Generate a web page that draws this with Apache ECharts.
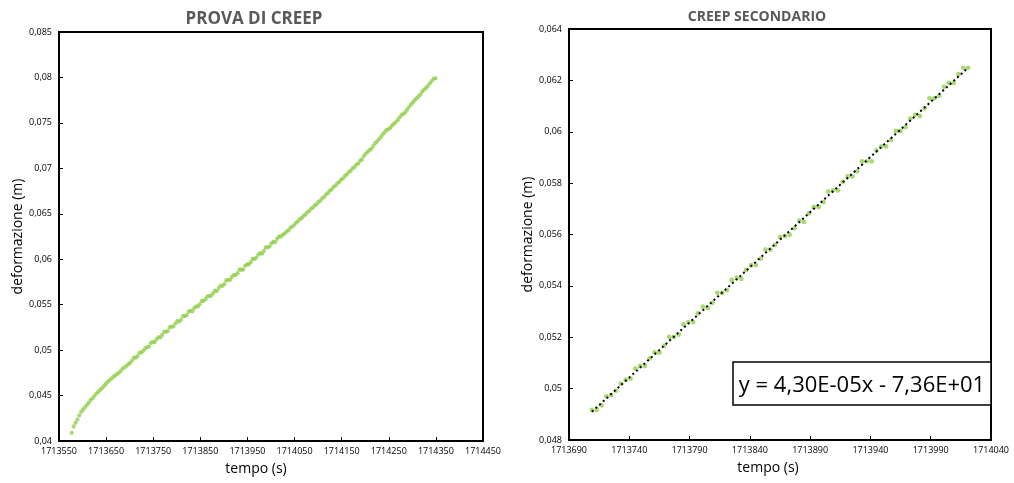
<!DOCTYPE html>
<html>
<head>
<meta charset="utf-8">
<script src="https://cdn.jsdelivr.net/npm/echarts@6/dist/echarts.min.js"></script>
<style>html,body{margin:0;padding:0;background:#fff}#c{width:1014px;height:483px}</style>
</head>
<body>
<div id="c"></div>
<script>
// ---- data ----
const primaryTime = [1713577,1713581,1713585,1713589,1713593,1713597,1713601,1713605,1713609,1713613,1713617,1713621,1713625,1713629,1713633,1713637,1713641,1713645,1713649,1713653,1713657,1713661,1713665,1713669,1713673,1713677,1713681,1713685,1713689,1713693,1713697,1713701,1713705];
const primaryDef = [0.04090,0.04160,0.04200,0.04235,0.04280,0.04320,0.04345,0.04370,0.04395,0.04420,0.04450,0.04470,0.04495,0.04520,0.04540,0.04560,0.04580,0.04600,0.04625,0.04650,0.04665,0.04685,0.04705,0.04720,0.04735,0.04750,0.04770,0.04795,0.04810,0.04825,0.04845,0.04860,0.04885];

const secondaryTime = [1713709,1713713,1713717,1713721,1713725,1713729,1713733,1713737,1713741,1713745,1713749,1713753,1713757,1713761,1713765,1713769,1713773,1713777,1713781,1713785,1713789,1713793,1713797,1713801,1713805,1713809,1713813,1713817,1713821,1713825,1713829,1713833,1713837,1713841,1713845,1713849,1713853,1713857,1713861,1713865,1713869,1713873,1713877,1713881,1713885,1713889,1713893,1713897,1713901,1713905,1713909,1713913,1713917,1713921,1713925,1713929,1713933,1713937,1713941,1713945,1713949,1713953,1713957,1713961,1713965,1713969,1713973,1713977,1713981,1713985,1713989,1713993,1713997,1714001,1714005,1714009,1714013,1714017,1714021];
const secondaryDef = [0.04917,0.04917,0.04935,0.04970,0.04975,0.04992,0.05019,0.05034,0.05039,0.05078,0.05088,0.05088,0.05118,0.05141,0.05141,0.05167,0.05201,0.05201,0.05210,0.05250,0.05259,0.05259,0.05293,0.05319,0.05314,0.05334,0.05373,0.05373,0.05384,0.05423,0.05432,0.05427,0.05462,0.05481,0.05481,0.05506,0.05541,0.05541,0.05560,0.05590,0.05594,0.05599,0.05624,0.05654,0.05649,0.05682,0.05707,0.05707,0.05726,0.05767,0.05772,0.05772,0.05805,0.05826,0.05826,0.05846,0.05885,0.05885,0.05885,0.05927,0.05943,0.05943,0.05968,0.06003,0.06003,0.06018,0.06051,0.06066,0.06061,0.06091,0.06130,0.06130,0.06140,0.06175,0.06190,0.06190,0.06224,0.06249,0.06249];

const tertiaryTime = [1714025,1714029,1714033,1714037,1714041,1714045,1714049,1714053,1714057,1714061,1714065,1714069,1714073,1714077,1714081,1714085,1714089,1714093,1714097,1714101,1714105,1714109,1714113,1714117,1714121,1714125,1714129,1714133,1714137,1714141,1714145,1714149,1714153,1714157,1714161,1714165,1714169,1714173,1714177,1714181,1714185,1714189,1714193,1714197,1714201,1714205,1714209,1714213,1714217,1714221,1714225,1714229,1714233,1714237,1714241,1714245,1714249,1714253,1714257,1714261,1714265,1714269,1714273,1714277,1714281,1714285,1714289,1714293,1714297,1714301,1714305,1714309,1714313,1714317,1714321,1714325,1714329,1714333,1714337,1714341,1714345,1714349];
const tertiaryDef = [0.06268,0.06282,0.06305,0.06318,0.06345,0.06358,0.06376,0.06401,0.06415,0.06440,0.06452,0.06478,0.06490,0.06517,0.06530,0.06555,0.06568,0.06594,0.06606,0.06632,0.06645,0.06673,0.06686,0.06714,0.06727,0.06755,0.06768,0.06796,0.06809,0.06836,0.06850,0.06877,0.06890,0.06918,0.06931,0.06958,0.06972,0.06999,0.07013,0.07040,0.07053,0.07081,0.07098,0.07135,0.07160,0.07180,0.07200,0.07215,0.07245,0.07275,0.07295,0.07320,0.07345,0.07370,0.07395,0.07420,0.07430,0.07445,0.07470,0.07490,0.07510,0.07530,0.07560,0.07587,0.07600,0.07615,0.07645,0.07675,0.07700,0.07725,0.07750,0.07770,0.07790,0.07810,0.07845,0.07865,0.07885,0.07905,0.07935,0.07960,0.07985,0.07990];

const titles = ['PROVA DI CREEP', 'CREEP SECONDARIO'];
const xName = 'tempo (s)';
const yName = 'deformazione (m)';
const equationText = 'y = 4,30E-05x - 7,36E+01';
const leftX = {min: 1713550, max: 1714450, interval: 100};
const leftY = {min: 0.04, max: 0.085, interval: 0.005};
const rightX = {min: 1713690, max: 1714040, interval: 50};
const rightY = {min: 0.048, max: 0.064, interval: 0.002};

// ---- build ----
const pair = (xs, ys) => xs.map((x, i) => [x, ys[i]]);
const allTime = primaryTime.concat(secondaryTime, tertiaryTime);
const allDef = primaryDef.concat(secondaryDef, tertiaryDef);

// least squares trend of secondary creep
function fit(xs, ys) {
  const n = xs.length;
  const x0 = xs[0];
  let sx = 0, sy = 0, sxx = 0, sxy = 0;
  for (let i = 0; i < n; i++) { const x = xs[i] - x0; sx += x; sy += ys[i]; sxx += x * x; sxy += x * ys[i]; }
  const b = (n * sxy - sx * sy) / (n * sxx - sx * sx);
  const a = (sy - b * sx) / n;
  return x => a + b * (x - x0);
}
const trend = fit(secondaryTime, secondaryDef);
const tFirst = secondaryTime[0], tLast = secondaryTime[secondaryTime.length - 1];
const trendData = [[tFirst, trend(tFirst)], [tLast, trend(tLast)]];

const FONT = 'Open Sans';
const GREEN = '#92D050';
const fmtY = v => String(Number(v.toFixed(4))).replace('.', ',');

function xAxis(idx, cfg, padRight) {
  return {
    type: 'value', gridIndex: idx, min: cfg.min, max: cfg.max, interval: cfg.interval,
    name: xName, nameLocation: 'middle', nameGap: 21,
    nameTextStyle: {fontFamily: FONT, fontSize: 14, color: '#000', padding: [0, padRight, 0, 0]},
    axisLine: {show: true, lineStyle: {color: '#000', width: 2}},
    axisTick: {show: true, inside: true, length: 4, lineStyle: {color: '#000', width: 1}},
    axisLabel: {fontFamily: FONT, fontSize: 9, color: '#000', margin: 6, formatter: v => String(Math.round(v))},
    splitLine: {show: false}
  };
}
function yAxis(idx, cfg, padY) {
  return {
    type: 'value', gridIndex: idx, min: cfg.min, max: cfg.max, interval: cfg.interval,
    name: yName, nameLocation: 'middle', nameGap: 34, nameRotate: 90,
    nameTextStyle: {fontFamily: FONT, fontSize: 14, color: '#000', padding: padY},
    axisLine: {show: true, lineStyle: {color: '#000', width: 2}},
    axisTick: {show: true, inside: true, length: 4, lineStyle: {color: '#000', width: 1}},
    axisLabel: {fontFamily: FONT, fontSize: 9, color: '#000', margin: 7, formatter: fmtY},
    splitLine: {show: false}
  };
}

const chart = echarts.init(document.getElementById('c'), null, {renderer: 'canvas'});
chart.setOption({
  animation: false,
  backgroundColor: '#fff',
  grid: [
    {left: 59, top: 32, width: 424, height: 409, show: true, borderColor: '#000', borderWidth: 2, backgroundColor: 'transparent'},
    {left: 569, top: 29, width: 422, height: 411, show: true, borderColor: '#000', borderWidth: 2, backgroundColor: 'transparent'}
  ],
  xAxis: [xAxis(0, leftX, 30), xAxis(1, rightX, 24)],
  yAxis: [yAxis(0, leftY, [0, 0, 0, 0]), yAxis(1, rightY, [0, 0, 0, 0])],
  series: [
    {type: 'scatter', xAxisIndex: 0, yAxisIndex: 0, data: pair(allTime, allDef), symbol: 'circle', symbolSize: 4.2, itemStyle: {color: GREEN}, z: 2},
    {type: 'scatter', xAxisIndex: 1, yAxisIndex: 1, data: pair(secondaryTime, secondaryDef), symbol: 'circle', symbolSize: 4.8, itemStyle: {color: GREEN}, z: 2},
    {type: 'line', xAxisIndex: 1, yAxisIndex: 1, data: trendData, showSymbol: false, symbol: 'none',
     lineStyle: {color: '#000', width: 2, type: [2, 3]}, z: 3, silent: true}
  ],
  graphic: [
    {type: 'text', x: 254, y: 19, style: {text: titles[0], fontFamily: FONT, fontWeight: 'bold', fontSize: 17, fill: '#595959', align: 'center', verticalAlign: 'middle'}},
    {type: 'text', x: 757, y: 17, style: {text: titles[1], fontFamily: FONT, fontWeight: 'bold', fontSize: 14, fill: '#595959', align: 'center', verticalAlign: 'middle'}},
    {type: 'rect', shape: {x: 733, y: 362, width: 258, height: 43}, style: {fill: '#fff', stroke: '#000', lineWidth: 1.5}, z: 10},
    {type: 'text', x: 862, y: 386, style: {text: equationText, fontFamily: FONT, fontSize: 22, fill: '#000', align: 'center', verticalAlign: 'middle'}, z: 11}
  ]
});
</script>
</body>
</html>
